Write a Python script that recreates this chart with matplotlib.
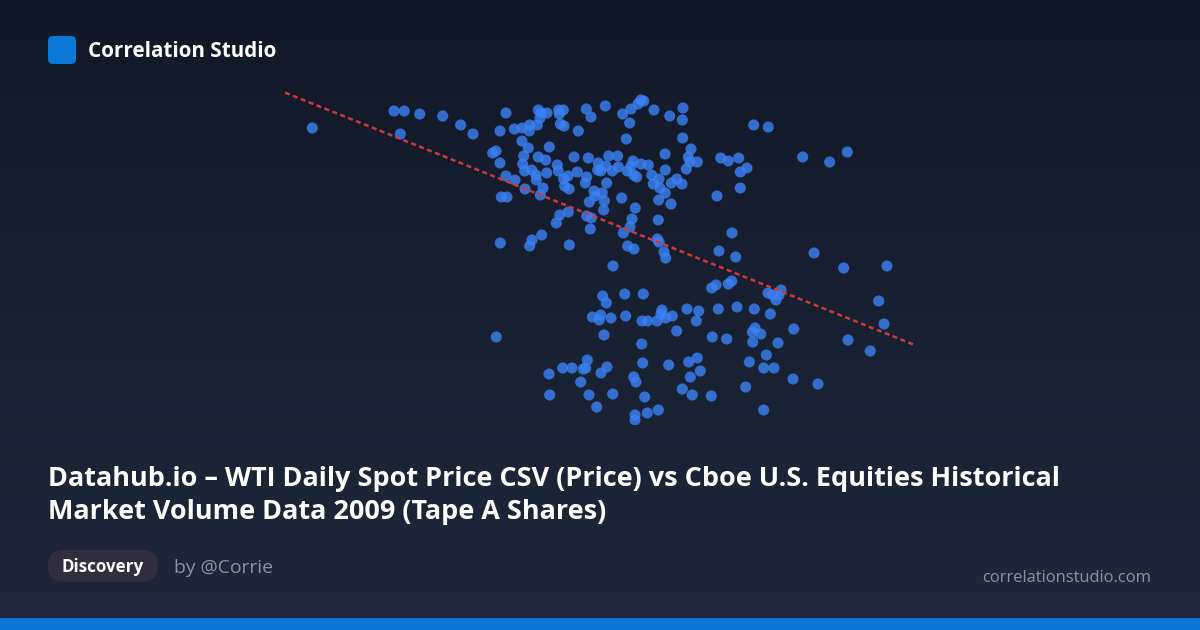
import numpy as np
import matplotlib
matplotlib.use("Agg")
import matplotlib.pyplot as plt
from matplotlib.patches import FancyBboxPatch, Rectangle

# WTI spot price (USD/bbl) vs Tape A volume (billion shares)
price = [
    31.23, 39.40, 40.43, 41.97, 44.27, 46.07, 47.30, 40.03,
    50.60, 53.83, 54.10, 54.70, 55.87, 56.33, 55.93, 58.63, 59.10, 60.53,
    62.27, 63.10, 63.80, 64.10, 64.37, 65.40, 66.97, 68.30, 68.23, 50.00,
    51.43, 52.23, 52.97, 52.93, 53.73, 54.00, 56.03, 56.40, 57.83, 62.97,
    62.63, 68.27, 52.20, 52.83, 54.93, 49.27, 49.60, 50.00, 52.37, 53.83,
    54.57, 52.27, 52.47, 53.17, 55.73, 55.83, 57.40, 58.83, 59.83, 60.87,
    61.77, 59.77, 60.60, 61.23, 61.83, 62.73, 63.30, 63.10, 64.10, 64.83,
    66.50, 66.53, 69.10, 68.83, 69.00, 68.63, 69.73, 50.60, 51.50, 53.60,
    53.63, 54.67, 56.80, 56.37, 57.73, 58.67, 58.53, 60.07, 63.37, 63.67,
    65.17, 65.33, 65.90, 66.00, 67.13, 67.67, 68.20, 52.50, 54.30, 54.03,
    56.47, 56.90, 59.40, 60.67, 60.23, 59.50, 60.43, 58.93, 62.17, 66.53,
    65.87, 67.10, 50.13, 50.70, 56.83, 55.97, 55.63, 60.37, 58.67, 59.13,
    59.03, 63.53, 63.20, 63.00, 62.33, 65.83, 54.17, 53.20, 52.97, 50.03,
    56.93, 62.77, 63.40, 65.73, 65.90, 66.40, 66.57, 61.30,
    75.37, 76.83, 72.07, 72.83, 73.87, 74.70, 74.03, 74.03, 71.70, 80.27,
    82.97, 84.73, 73.20, 71.90, 73.57, 81.40, 84.37, 88.70,
    71.17, 71.60, 72.83, 73.17, 76.80, 77.27, 77.60, 77.90, 78.10, 87.87,
    88.40, 84.80, 87.03, 68.70, 69.87, 69.63, 71.83, 73.70, 75.43, 77.03,
    75.50, 75.23, 76.07, 75.27, 77.80, 79.37, 71.23, 72.67, 68.87, 69.73,
    70.03, 69.03, 68.23, 69.23, 71.13, 74.93, 76.63, 76.37, 77.40, 74.57,
    79.30, 81.80, 76.37,
    49.63, 60.27, 60.63, 62.47, 64.33, 59.23, 60.07, 59.93, 61.10, 62.57,
    60.40, 64.20, 64.77, 65.70, 66.20, 66.10, 66.57, 67.23, 67.67, 64.17,
    64.27, 66.87, 58.73, 56.27, 57.20, 58.33, 58.57, 60.70, 60.10, 54.90,
    58.07, 63.37, 63.60, 54.97, 58.90, 61.27, 64.47, 59.67, 63.50, 63.50,
    64.73, 65.83,
]
volume = [
    5.02, 5.19, 5.19, 5.16, 5.14, 5.05, 4.96, 4.96,
    5.17, 5.20, 5.17, 5.17, 5.20, 5.20, 5.16, 5.21, 5.13, 5.24,
    5.16, 5.21, 5.26, 5.30, 5.29, 5.20, 5.14, 5.22, 5.10, 4.99,
    5.01, 5.02, 5.05, 4.99, 5.05, 5.12, 5.06, 5.04, 4.99, 5.07,
    4.91, 4.92, 4.89, 4.82, 4.83, 4.77, 4.79, 4.67, 4.74, 4.73,
    4.70, 4.66, 4.59, 4.60, 4.65, 4.59, 4.73, 4.72, 4.67, 4.74,
    4.74, 4.60, 4.64, 4.59, 4.63, 4.59, 4.69, 4.64, 4.66, 4.65,
    4.76, 4.60, 4.81, 4.73, 4.68, 4.61, 4.68, 4.54, 4.50, 4.55,
    4.50, 4.57, 4.54, 4.51, 4.58, 4.53, 4.47, 4.59, 4.55, 4.53,
    4.55, 4.46, 4.51, 4.42, 4.47, 4.51, 4.46, 4.41, 4.42, 4.35,
    4.44, 4.41, 4.39, 4.47, 4.37, 4.34, 4.29, 4.28, 4.32, 4.37,
    4.30, 4.26, 4.33, 4.33, 4.18, 4.15, 4.07, 4.20, 4.14, 4.12,
    4.01, 4.22, 4.11, 4.03, 3.97, 4.10, 3.95, 3.90, 3.84, 3.87,
    3.85, 3.84, 3.81, 3.91, 3.88, 3.78, 3.72, 3.64,
    5.05, 5.03, 4.72, 4.69, 4.72, 4.62, 4.58, 4.42, 4.34, 4.73,
    4.68, 4.78, 3.97, 3.79, 3.73, 3.77, 3.62, 3.64,
    3.42, 3.45, 3.46, 3.49, 3.37, 3.35, 3.30, 3.35, 3.40, 3.29,
    3.06, 2.90, 2.79, 3.21, 3.19, 3.09, 3.21, 3.23, 3.21, 3.16,
    3.02, 2.98, 2.96, 2.88, 2.87, 3.01, 2.93, 2.91, 2.68, 2.72,
    2.59, 2.53, 2.41, 2.35, 2.34, 2.68, 2.75, 2.62, 2.62, 2.43,
    2.51, 2.46, 2.20,
    2.93, 3.34, 3.27, 3.36, 3.36, 3.13, 3.15, 3.10, 3.12, 3.14,
    2.95, 3.09, 3.09, 3.09, 3.20, 3.16, 3.12, 3.14, 2.99, 2.86,
    2.67, 2.65, 2.70, 2.62, 2.62, 2.61, 2.62, 2.63, 2.57, 2.56,
    2.48, 2.53, 2.48, 2.35, 2.35, 2.36, 2.33, 2.23, 2.15, 2.10,
    2.17, 2.20,
]

brand = "Correlation Studio"
title_lines = ["Datahub.io \u2013 WTI Daily Spot Price CSV (Price) vs Cboe U.S. Equities Historical",
               "Market Volume Data 2009 (Tape A Shares)"]
tag = "Discovery"
author = "by @Corrie"
site = "correlationstudio.com"

W, H = 1200, 630
fig = plt.figure(figsize=(W / 100, H / 100), dpi=100)

# full-figure overlay in pixel coords (y down)
bg = fig.add_axes([0, 0, 1, 1], zorder=0)
bg.set_xlim(0, W)
bg.set_ylim(H, 0)
bg.axis("off")
top = np.array([17, 24, 40]) / 255
bot = np.array([31, 41, 59]) / 255
t = np.linspace(0, 1, 256)[:, None]
grad = (top[None, :] * (1 - t) + bot[None, :] * t)[:, None, :]
bg.imshow(grad, extent=(0, W, H, 0), aspect="auto", interpolation="bilinear", zorder=0)

# bottom accent bar
bg.add_patch(Rectangle((0, 618), W, 12, color="#0a77d4", lw=0, zorder=1))
# logo
bg.add_patch(FancyBboxPatch((48, 36), 28, 28, boxstyle="round,pad=0,rounding_size=5",
                            fc="#0b78d8", ec="none", zorder=2))
# pill
bg.add_patch(FancyBboxPatch((48, 550), 110, 32, boxstyle="round,pad=0,rounding_size=16",
                            fc="#322e3d", ec="none", zorder=2))

bold = dict(family=["Open Sans", "DejaVu Sans"], weight="bold", color="white")
reg = dict(family=["Open Sans", "DejaVu Sans"], color="#8893a6")

tb = bg.text(88, 57, brand, fontsize=14, va="baseline", ha="left", zorder=3, **bold)
t1 = bg.text(48, 486, title_lines[0], fontsize=18, va="baseline", ha="left", zorder=3, **bold)
t2 = bg.text(48, 519, title_lines[1], fontsize=18, va="baseline", ha="left", zorder=3, **bold)
tt = bg.text(103, 572, tag, fontsize=12, va="baseline", ha="center", zorder=3, **bold)
ta = bg.text(174, 573, author, fontsize=13, va="baseline", ha="left", zorder=3, **reg)
ts = bg.text(1151, 582, site, fontsize=12, va="baseline", ha="right", zorder=3, **reg)

targets = [(tb, 189), (t1, 1009), (tt, 82), (ta, 99), (ts, 170)]
for _ in range(2):
    fig.canvas.draw()
    r = fig.canvas.get_renderer()
    for txt, w in targets:
        cur = txt.get_window_extent(r).width
        txt.set_fontsize(txt.get_fontsize() * w / cur)
    t2.set_fontsize(t1.get_fontsize())

# scatter axes positioned so the data lands on the reference pixels
ax = fig.add_axes([285 / W, 205 / H, 631 / W, 340 / H], zorder=2)
ax.patch.set_alpha(0)
ax.axis("off")
ax.set_xlim(28.5, 91.6)
ax.set_ylim(2.05, 5.45)

x = np.array(price)
y = np.array(volume)
ax.scatter(x, y, s=64, color="#3b82f6", alpha=0.8, edgecolors="none", zorder=2)

m, b = np.polyfit(x, y, 1)
xl = np.array(ax.get_xlim())
ax.plot(xl, m * xl + b, color="#d03a3c", lw=1.8, ls=(0, (2.0, 1.4)), zorder=3)

fig.savefig("out.png", dpi=100, facecolor=fig.get_facecolor())
